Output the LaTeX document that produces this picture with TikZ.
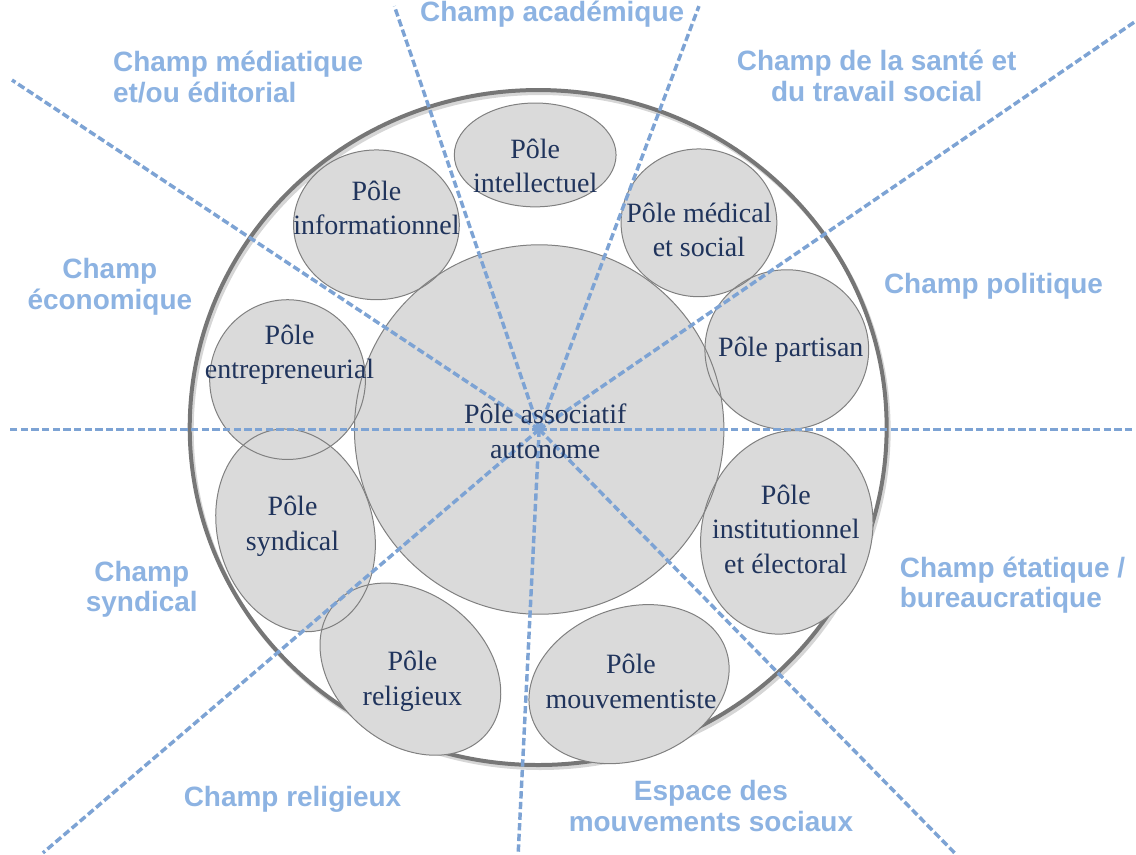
\documentclass[tikz,border=0pt]{standalone}
\usepackage{fontspec}
\setmainfont{Liberation Serif}
\newfontfamily\champfont{Liberation Sans}
\usepackage{tikz}
\usetikzlibrary{arrows}

\begin{document}
\begin{tikzpicture}[x=0.75pt,y=0.75pt,yscale=-1,xscale=1,
  champ/.style={text={rgb, 255:red, 141; green, 179; blue, 226 }, font=\champfont\bfseries\fontsize{21}{23}\selectfont, inner sep=0.75pt},
  pole/.style={text={rgb, 255:red, 32; green, 52; blue, 92 }, font=\fontsize{21}{26}\selectfont, align=center, inner sep=0.75pt},
  polefill/.style={fill={rgb, 255:red, 218; green, 218; blue, 218 }},
  poleline/.style={draw={rgb, 255:red, 128; green, 128; blue, 128 }, line width=0.75pt},
  ray/.style={draw={rgb, 255:red, 125; green, 163; blue, 212 }, line width=2.6pt, dash pattern=on 5.5pt off 2.5pt},
  ring/.style={draw={rgb, 255:red, 118; green, 118; blue, 118 }, line width=3pt}]
\path (0,0) rectangle (1136,854);

%Shape: Ellipse (shadow of the ring)
\draw [ring, draw opacity=0.3] (541,431) ellipse [x radius=349, y radius=338];
%Shape: Ellipse (ring)
\draw [ring] (539,428) ellipse [x radius=349, y radius=338];

%Shape: Circle and Ellipses (fill)
\fill [polefill] (540,430) circle [radius=185];
\fill [polefill] (536,155) ellipse [x radius=81, y radius=52];
\fill [polefill] (377,225) ellipse [x radius=83, y radius=75];
\fill [polefill] (700,223) ellipse [x radius=78, y radius=74];
\fill [polefill] (788,350) ellipse [x radius=82, y radius=80];
\fill [polefill] (288,380) ellipse [x radius=78, y radius=80];
\fill [polefill, rotate around={-15:(296,531)}] (296,531) ellipse [x radius=78, y radius=103];
\fill [polefill, rotate around={15:(788,533)}] (788,533) ellipse [x radius=85, y radius=103];
\fill [polefill, rotate around={40:(411,670)}] (411,670) ellipse [x radius=100, y radius=75];
\fill [polefill, rotate around={-20:(630,685)}] (630,685) ellipse [x radius=103, y radius=76];

%Shape: Circle and Ellipses (outline)
\draw [poleline] (540,430) circle [radius=185];
\draw [poleline] (536,155) ellipse [x radius=81, y radius=52];
\draw [poleline] (377,225) ellipse [x radius=83, y radius=75];
\draw [poleline] (700,223) ellipse [x radius=78, y radius=74];
\draw [poleline] (788,350) ellipse [x radius=82, y radius=80];
\draw [poleline] (288,380) ellipse [x radius=78, y radius=80];
\draw [poleline, rotate around={-15:(296,531)}] (296,531) ellipse [x radius=78, y radius=103];
\draw [poleline, rotate around={15:(788,533)}] (788,533) ellipse [x radius=85, y radius=103];
\draw [poleline, rotate around={40:(411,670)}] (411,670) ellipse [x radius=100, y radius=75];
\draw [poleline, rotate around={-20:(630,685)}] (630,685) ellipse [x radius=103, y radius=76];

%Straight Lines
\coordinate (ctr) at (540,430);
\coordinate (endW) at (10,430);
\coordinate (endE) at (1136,430);
\coordinate (endNW) at (12,80);
\coordinate (endNNW) at (395,6);
\coordinate (endNNE) at (700,6);
\coordinate (endNE) at (1136,22);
\coordinate (endSW) at (43,854);
\coordinate (endS) at (519,854);
\coordinate (endSE) at (956,854);
\draw [ray] (ctr) -- (endW);
\draw [ray] (ctr) -- (endE);
\draw [ray] (ctr) -- (endNW);
\draw [ray] (ctr) -- (endNNW);
\draw [ray] (ctr) -- (endNNE);
\draw [ray] (ctr) -- (endNE);
\draw [ray] (ctr) -- (endSW);
\draw [ray] (ctr) -- (endS);
\draw [ray] (ctr) -- (endSE);

% Text Node
\node [pole] (intel) at (536,166) {Pôle\\intellectuel};
% Text Node
\node [pole] (info) at (377,208) {Pôle\\informationnel};
% Text Node
\node [pole] (medic) at (700,230) {Pôle médical\\et social};
% Text Node
\node [pole] (partis) at (792,350) {Pôle partisan};
% Text Node
\node [pole] (entre) at (290,355) {Pôle\\entrepreneurial};
% Text Node
\node [pole] (assoc) at (546,432) {Pôle associatif\\autonome};
% Text Node
\node [pole] (synd) at (293,527) {Pôle\\syndical};
% Text Node
\node [pole] (instit) at (787,530) {Pôle\\institutionnel\\et électoral};
% Text Node
\node [pole] (relig) at (413,682) {Pôle\\religieux};
% Text Node
\node [pole] (mouv) at (632,682) {Pôle\\mouvementiste};

% Text Node
\node [champ] (chacad) at (553,14) {Champ académique};
% Text Node
\node [champ, anchor=west, align=left] (chmedia) at (112,77) {Champ médiatique\\et/ou éditorial};
% Text Node
\node [champ, align=center] (chsante) at (878,76) {Champ de la santé et\\du travail social};
% Text Node
\node [champ, align=center] (checo) at (110,287) {Champ\\économique};
% Text Node
\node [champ] (chpol) at (995,287) {Champ politique};
% Text Node
\node [champ, align=center] (chsynd) at (142,590) {Champ\\syndical};
% Text Node
\node [champ, anchor=west, align=left] (chetat) at (900,586) {Champ étatique /\\bureaucratique};
% Text Node
\node [champ] (chrelig) at (293,800) {Champ religieux};
% Text Node
\node [champ, align=center] (chmouv) at (712,807) {Espace des\\mouvements sociaux};

\end{tikzpicture}
\end{document}
